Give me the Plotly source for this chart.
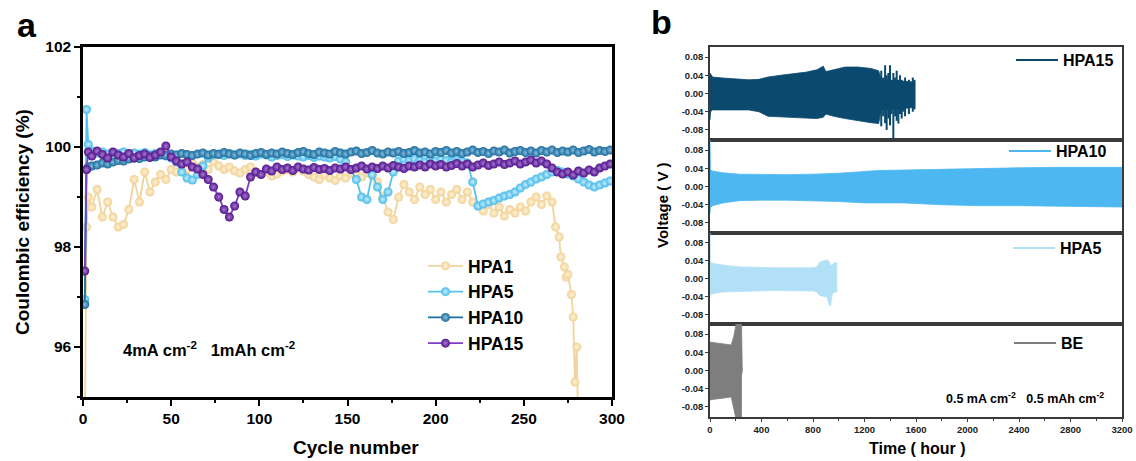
import plotly.graph_objects as go

W, H = 1136, 461
F = "Liberation Sans, Arial, sans-serif"


def px(x):
    return x / W


def py(y):
    return 1 - y / H


# ---------------- panel a data ----------------
cycles = [1, 2, 3] + list(range(5, 300, 3))

hpa5_ce = [96.95, 100.75, 100.05,
           99.92, 99.88, 99.9, 99.86, 99.89, 99.87, 99.9, 99.85, 99.88, 99.86,
           99.89, 99.84, 99.87, 99.85, 99.82, 99.78, 99.7, 99.5, 99.38, 99.34,
           99.45, 99.62, 99.78, 99.84, 99.86, 99.83, 99.87, 99.84, 99.86, 99.83,
           99.85, 99.82, 99.86, 99.84, 99.8, 99.83, 99.85, 99.81, 99.84, 99.82,
           99.8, 99.83, 99.79, 99.82, 99.8, 99.78, 99.81, 99.76, 99.7, 99.55,
           99.35, 99.0, 98.95, 99.45, 99.2, 98.95, 99.1, 99.5, 99.72, 99.76,
           99.73, 99.77, 99.74, 99.7, 99.75, 99.72, 99.76, 99.73, 99.7, 99.74,
           99.71, 99.68, 99.3, 98.82, 98.86, 98.9, 98.93, 98.98, 99.02, 99.05,
           99.1, 99.18, 99.25, 99.3, 99.36, 99.4, 99.45, 99.5, 99.53, 99.5,
           99.46, 99.42, 99.36, 99.3, 99.24, 99.2, 99.24, 99.28, 99.32]

hpa10_ce = [96.85, 99.55, 99.6,
            99.62, 99.64, 99.68, 99.66, 99.7, 99.73, 99.72, 99.76, 99.78, 99.77,
            99.8, 99.82, 99.8, 99.84, 99.83, 99.86, 99.84, 99.87, 99.85, 99.83,
            99.86, 99.88, 99.84, 99.87, 99.85, 99.89, 99.86, 99.84, 99.88, 99.86,
            99.83, 99.87, 99.89, 99.85, 99.88, 99.86, 99.9, 99.87, 99.85, 99.89,
            99.91, 99.87, 99.85, 99.9, 99.88, 99.86, 99.91, 99.88, 99.86, 99.9,
            99.92, 99.87, 99.89, 99.93, 99.88, 99.86, 99.9, 99.88, 99.91, 99.87,
            99.89, 99.93, 99.88, 99.9, 99.86, 99.91, 99.89, 99.93, 99.88, 99.91,
            99.87, 99.9, 99.94, 99.89, 99.91, 99.87, 99.92, 99.9, 99.94, 99.88,
            99.91, 99.93, 99.89, 99.92, 99.88, 99.93, 99.9, 99.94, 99.89, 99.92,
            99.9, 99.94, 99.89, 99.92, 99.95, 99.9, 99.93, 99.91, 99.94]

hpa15_ce = [97.52, 99.55, 99.9,
            99.82, 99.92, 99.85, 99.78, 99.9, 99.84, 99.8, 99.87, 99.78, 99.83,
            99.86, 99.79, 99.84, 99.9, 100.02, 99.8, 99.72, 99.66, 99.7, 99.6,
            99.56, 99.45, 99.35, 99.2, 99.0, 98.75, 98.6, 98.82, 99.1, 99.02,
            99.4, 99.5, 99.45, 99.56, 99.52, 99.6, 99.55, 99.58, 99.53, 99.6,
            99.56, 99.54, 99.59, 99.55, 99.57, 99.53, 99.58, 99.56, 99.6, 99.55,
            99.58, 99.62, 99.56, 99.6, 99.57, 99.62, 99.58, 99.63, 99.6, 99.57,
            99.62, 99.6, 99.64, 99.6, 99.66, 99.62, 99.65, 99.6, 99.63, 99.67,
            99.62, 99.66, 99.6, 99.64, 99.68, 99.63, 99.66, 99.7, 99.65, 99.68,
            99.72, 99.66, 99.7, 99.74, 99.68, 99.72, 99.66, 99.58, 99.5, 99.46,
            99.5, 99.44, 99.52, 99.48, 99.54, 99.5, 99.58, 99.62, 99.66]

hpa1_cycles = [1, 2, 3] + list(range(5, 267, 3)) + [268, 270, 271, 273, 274, 275, 277, 278, 279, 280, 281]
hpa1_ce = [94.0, 98.4, 99.0,
           98.8, 99.15, 98.6, 98.9, 98.6, 98.4, 98.45, 98.75, 99.35, 98.9,
           99.5, 99.1, 99.3, 99.45, 99.35, 99.55, 99.5, 99.62, 99.55, 99.68,
           99.6, 99.65, 99.55, 99.7, 99.62, 99.55, 99.6, 99.52, 99.48, 99.55,
           99.6, 99.5, 99.45, 99.5, 99.42, 99.46, 99.52, 99.55, 99.5, 99.58,
           99.52, 99.45, 99.4, 99.35, 99.44, 99.38, 99.33, 99.42, 99.38, 99.47,
           99.44, 99.4, 99.48, 99.42, 99.3, 99.0, 98.7, 98.55, 99.0, 99.25,
           99.1, 98.95, 99.2, 99.05, 99.15, 98.95, 99.1, 98.9, 99.05, 99.15,
           98.95, 99.1, 98.9, 98.82, 98.72, 98.85, 98.68, 98.8, 98.62, 98.75,
           98.68, 98.8, 98.72, 98.9, 99.0, 98.85, 99.02, 98.9,
           98.4, 98.2, 97.8, 97.6, 97.4, 97.45, 97.05, 96.6, 95.3, 96.0, 94.0]

# ---------------- panel b data (voltage envelopes) ----------------
t15 = [0, 5, 20, 100, 200, 300, 380, 450, 550, 650, 750, 830, 880, 900, 960, 1050, 1150, 1250, 1310, 1330, 1450, 1590]
u15 = [0.045, 0.042, 0.036, 0.034, 0.032, 0.030, 0.031, 0.036, 0.040, 0.043, 0.047, 0.052, 0.060, 0.048, 0.052,
       0.058, 0.058, 0.055, 0.050, 0.030, 0.028, 0.025]
l15 = [-0.058, -0.040, -0.036, -0.036, -0.036, -0.036, -0.040, -0.050, -0.052, -0.053, -0.054, -0.055, -0.052,
       -0.045, -0.050, -0.055, -0.060, -0.064, -0.066, -0.035, -0.035, -0.030]
spike_t15 = [1330, 1345, 1360, 1372, 1385, 1398, 1410, 1424, 1438, 1450, 1463, 1476, 1489, 1502, 1515, 1530, 1545,
             1560, 1575, 1588]
spike_hi15 = [0.050, 0.035, 0.062, 0.040, 0.045, 0.062, 0.030, 0.045, 0.035, 0.050, 0.030, 0.040, 0.030, 0.025,
              0.035, 0.020, 0.030, 0.025, 0.035, 0.030]
spike_lo15 = [-0.072, -0.050, -0.065, -0.080, -0.055, -0.070, -0.045, -0.102, -0.050, -0.060, -0.066, -0.045,
              -0.055, -0.040, -0.050, -0.030, -0.045, -0.030, -0.040, -0.035]

t10 = [0, 3, 20, 100, 230, 400, 600, 800, 1000, 1200, 1300, 1500, 1800, 2100, 2400, 2700, 3000, 3200]
u10 = [0.11, 0.036, 0.034, 0.030, 0.027, 0.026, 0.026, 0.027, 0.029, 0.033, 0.035, 0.036, 0.038, 0.040, 0.041,
       0.042, 0.042, 0.042]
l10 = [-0.06, -0.046, -0.042, -0.036, -0.031, -0.030, -0.030, -0.031, -0.033, -0.036, -0.036, -0.036, -0.040,
       -0.042, -0.042, -0.043, -0.044, -0.045]

t5 = [0, 3, 20, 100, 230, 500, 800, 830, 850, 880, 910, 925, 935, 950, 965, 985]
u5 = [0.11, 0.036, 0.034, 0.030, 0.026, 0.024, 0.024, 0.026, 0.036, 0.040, 0.042, 0.038, 0.030, 0.030, 0.035, 0.036]
l5 = [-0.04, -0.036, -0.034, -0.030, -0.028, -0.027, -0.028, -0.030, -0.038, -0.040, -0.042, -0.058, -0.062,
      -0.035, -0.030, -0.030]

tBE = [0, 4, 60, 120, 165, 185, 205, 215, 244, 245, 250, 252]
uBE = [0.062, 0.062, 0.060, 0.058, 0.056, 0.075, 0.100, 0.120, 0.120, 0.010, 0.010, 0.0]
lBE = [-0.066, -0.064, -0.062, -0.060, -0.058, -0.080, -0.110, -0.120, -0.120, -0.010, -0.010, 0.0]

fig = go.Figure()

# ---------------- panel a traces ----------------
series_a = [
    ("HPA1", hpa1_cycles, hpa1_ce, "#F1D194", "#FFF3DA", "#F2D49B"),
    ("HPA5", cycles, hpa5_ce, "#47BBEA", "#C8EDFB", "#55C2EE"),
    ("HPA10", cycles, hpa10_ce, "#1B6C9C", "#86BEDF", "#1C6E9E"),
    ("HPA15", cycles, hpa15_ce, "#52128C", "#A47ACF", "#7E3FC6"),
]
for name, xs, ys, col, hl, lcol in series_a:
    fig.add_trace(go.Scatter(
        x=xs, y=ys, name=name, mode="lines+markers",
        line=dict(color=lcol, width=1.8),
        marker=dict(symbol="circle", size=9, color=col,
                    gradient=dict(type="radial", color=hl), line=dict(width=0)),
        xaxis="x", yaxis="y", legend="legend"))

# ---------------- panel b traces ----------------
panels_b = [
    ("HPA15", t15, u15, l15, "#0B4A6E", "2"),
    ("HPA10", t10, u10, l10, "#4DB7F2", "3"),
    ("HPA5", t5, u5, l5, "#B2E1F7", "4"),
    ("BE", tBE, uBE, lBE, "#7E7E7E", "5"),
]
for name, ts, us, ls, col, k in panels_b:
    fig.add_trace(go.Scatter(
        x=list(ts) + list(ts)[::-1], y=list(us) + list(ls)[::-1],
        mode="lines", fill="toself", fillcolor=col,
        line=dict(color=col, width=0.8), showlegend=False, hoverinfo="skip",
        xaxis="x" + k, yaxis="y" + k))
    if name == "HPA15":
        sx, sy = [], []
        for t, hi, lo in zip(spike_t15, spike_hi15, spike_lo15):
            sx += [t, t, None]
            sy += [lo, hi, None]
        fig.add_trace(go.Scatter(x=sx, y=sy, mode="lines", line=dict(color=col, width=2),
                                 showlegend=False, hoverinfo="skip", xaxis="x" + k, yaxis="y" + k))
    fig.add_trace(go.Scatter(
        x=[None], y=[None], name=name, mode="lines", line=dict(color=col, width=2),
        xaxis="x" + k, yaxis="y" + k, legend="legend" + k))

# ---------------- layout ----------------
tickfont_a = dict(size=15.5, family=F, color="black", weight="bold")
layout = dict(
    template="none",
    width=W, height=H,
    margin=dict(l=0, r=0, t=0, b=0, autoexpand=False),
    paper_bgcolor="white", plot_bgcolor="white",
    font=dict(family=F, color="black"),
    xaxis=dict(domain=[px(83), px(612)], range=[0, 300], anchor="y", automargin=False,
               showline=True, linecolor="black", linewidth=2.5, mirror=True,
               ticks="outside", ticklen=6, tickwidth=2, tickcolor="black",
               tick0=0, dtick=50,
               minor=dict(dtick=25, ticks="outside", ticklen=3.5, tickwidth=2, tickcolor="black"),
               tickfont=tickfont_a, showgrid=False, zeroline=False),
    yaxis=dict(domain=[py(397), py(47)], range=[95, 102], anchor="x", automargin=False,
               showline=True, linecolor="black", linewidth=2.5, mirror=True,
               ticks="outside", ticklen=6, tickwidth=2, tickcolor="black",
               tick0=96, dtick=2,
               minor=dict(dtick=1, ticks="outside", ticklen=3.5, tickwidth=2, tickcolor="black"),
               tickfont=tickfont_a, showgrid=False, zeroline=False),
    legend=dict(x=px(423), y=py(248), xanchor="left", yanchor="top",
                font=dict(size=17.5, family=F, color="black", weight="bold"),
                bgcolor="rgba(0,0,0,0)", tracegroupgap=0, itemwidth=35),
)

bounds = [(47, 140), (140, 233), (233, 324), (324, 417)]
leg_pos = [(1011, 43), (1004, 134), (1008, 231), (1009, 326)]
tickfont_b = dict(size=9.5, family=F, color="#222", weight="bold")
for i, (top, bot) in enumerate(bounds):
    k = str(i + 2)
    last = i == 3
    layout["xaxis" + k] = dict(
        domain=[px(710), px(1122)], range=[0, 3200], anchor="y" + k, automargin=False,
        showline=True, linecolor="#3a3a3a", linewidth=1.5, mirror=True,
        showgrid=False, zeroline=False,
        showticklabels=last, ticks="outside" if last else "",
        ticklen=3, tickwidth=1, tickcolor="#3a3a3a", tick0=0, dtick=400,
        minor=dict(dtick=200, ticks="outside" if last else "", ticklen=2, tickcolor="#3a3a3a"),
        tickfont=tickfont_b)
    layout["yaxis" + k] = dict(
        domain=[py(bot), py(top)], range=[-0.102, 0.102], anchor="x" + k, automargin=False,
        showline=True, linecolor="#3a3a3a", linewidth=1.5, mirror=True,
        showgrid=False, zeroline=False,
        tickvals=[-0.08, -0.04, 0.0, 0.04, 0.08],
        ticktext=["-0.08", "-0.04", "0.00", "0.04", "0.08"],
        ticks="outside", ticklen=3, tickwidth=1, tickcolor="#3a3a3a",
        tickfont=tickfont_b)
    lx, ly = leg_pos[i]
    layout["legend" + k] = dict(
        x=px(lx), y=py(ly), xanchor="left", yanchor="top",
        font=dict(size=16, family=F, color="black", weight="bold"),
        bgcolor="rgba(0,0,0,0)", itemwidth=42)

fig.update_layout(**layout)

ann = [
    dict(text="a", x=px(27), y=py(25), font=dict(size=34, family=F, weight="bold")),
    dict(text="b", x=px(661), y=py(22), font=dict(size=34, family=F, weight="bold")),
    dict(text="Coulombic efficiency (%)", x=px(22), y=py(222), textangle=-90,
         font=dict(size=19, family=F, weight="bold")),
    dict(text="Cycle number", x=px(356), y=py(447), font=dict(size=19, family=F, weight="bold")),
    dict(text="4mA cm<sup>-2</sup>   1mAh cm<sup>-2</sup>", x=px(209), y=py(349),
         font=dict(size=16.5, family=F, weight="bold")),
    dict(text="Voltage ( V )", x=px(662), y=py(205), textangle=-90,
         font=dict(size=15, family=F, weight="bold")),
    dict(text="Time ( hour )", x=px(917), y=py(448), font=dict(size=16, family=F, weight="bold")),
    dict(text="0.5 mA cm<sup>-2</sup>   0.5 mAh cm<sup>-2</sup>", x=px(1025), y=py(398),
         font=dict(size=12.5, family=F, weight="bold")),
]
for a in ann:
    a.update(xref="paper", yref="paper", showarrow=False, xanchor="center", yanchor="middle")
    a["font"].setdefault("color", "black")
fig.update_layout(annotations=ann)

fig.write_html("out.html")
